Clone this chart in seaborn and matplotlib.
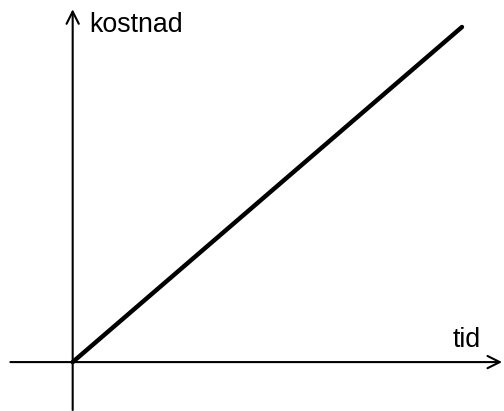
import numpy as np
import pandas as pd
import seaborn as sns
import matplotlib.pyplot as plt

tid = [0, 1]
kostnad = [0, 1]
xlabel = "tid"
ylabel = "kostnad"

df = pd.DataFrame({"tid": tid, "kostnad": kostnad})

sns.set_style("white")
plt.rcParams["font.family"] = ["Liberation Sans", "DejaVu Sans"]

fig = plt.figure(figsize=(5.04, 4.11), dpi=100)
ax = fig.add_axes([0, 0, 1, 1])
ax.set_xlim(-0.1867, 1.108)
ax.set_ylim(-0.146, 1.0806)
ax.axis("off")

# axes with arrows
arrow = dict(arrowstyle="->", lw=1.5, color="black", mutation_scale=22, shrinkA=0, shrinkB=0)
ax.annotate("", xy=(1.103, 0), xytext=(-0.16, 0), arrowprops=arrow)
ax.annotate("", xy=(0, 1.053), xytext=(0, -0.143), arrowprops=arrow)

sns.lineplot(data=df, x="tid", y="kostnad", color="black", lw=3.2, ax=ax)
ax.axis("off")

ax.text(0.042, 0.985, ylabel, fontsize=19.3, va="baseline", ha="left", color="black")
ax.text(0.975, 0.045, xlabel, fontsize=19.3, va="baseline", ha="left", color="black")

fig.savefig("out.png", dpi=100)
